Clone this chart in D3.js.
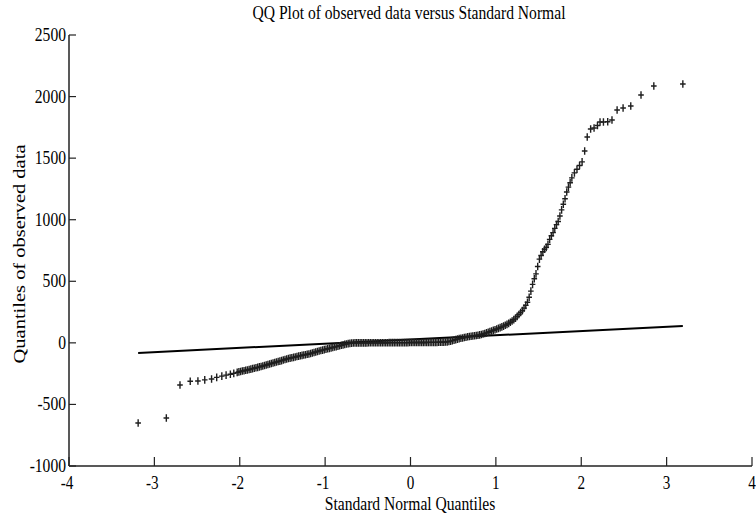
<!DOCTYPE html>
<html>
<head>
<meta charset="utf-8">
<script src="https://cdn.jsdelivr.net/npm/d3@7"></script>
<style>
	body { margin: 0; background: #fff; }
	text { font-family: "Liberation Serif", "Times New Roman", serif; fill: #000; }
</style>
</head>
<body>
<svg id="chart" width="756" height="518"></svg>
<script>
var qx = [
	-3.19, -2.86, -2.70, -2.58, -2.49, -2.41, -2.33, -2.27, -2.21, -2.16, -2.11, -2.07,
	-2.03, -2.01, -1.99, -1.97, -1.95, -1.93, -1.91, -1.89, -1.87, -1.85,
	-1.83, -1.81, -1.79, -1.77, -1.75, -1.73, -1.71, -1.69, -1.67, -1.65,
	-1.63, -1.61, -1.59, -1.57, -1.55, -1.53, -1.51, -1.49, -1.47, -1.45,
	-1.43, -1.41, -1.39, -1.37, -1.35, -1.33, -1.31, -1.29, -1.27, -1.25,
	-1.23, -1.21, -1.19, -1.17, -1.15, -1.13, -1.11, -1.09, -1.07, -1.05,
	-1.03, -1.01, -0.99, -0.97, -0.95, -0.93, -0.91, -0.89, -0.87, -0.85,
	-0.83, -0.81, -0.79, -0.77, -0.75, -0.73, -0.71, -0.69, -0.67,
	-0.65, -0.63, -0.61, -0.59, -0.57, -0.55, -0.53, -0.51, -0.49, -0.47,
	-0.45, -0.43, -0.41, -0.39, -0.37, -0.35, -0.33, -0.31, -0.29, -0.27,
	-0.25, -0.23, -0.21, -0.19, -0.17, -0.15, -0.13, -0.11, -0.09, -0.07,
	-0.05, -0.03, -0.01, 0.01, 0.03, 0.05, 0.07, 0.09, 0.11, 0.13,
	0.15, 0.17, 0.19, 0.21, 0.23, 0.25, 0.27, 0.29, 0.31, 0.33,
	0.35, 0.37, 0.39, 0.41,
	0.43, 0.45, 0.47, 0.49, 0.51, 0.53, 0.55, 0.57, 0.59, 0.61,
	0.63, 0.65, 0.67, 0.69, 0.71, 0.73, 0.75, 0.77, 0.79, 0.81,
	0.83, 0.85, 0.87, 0.89, 0.91, 0.93, 0.95, 0.97, 0.99, 1.01,
	1.03, 1.05, 1.07, 1.09, 1.11, 1.13, 1.15, 1.17, 1.19, 1.21,
	1.23, 1.25, 1.27, 1.29, 1.31, 1.33, 1.35, 1.37, 1.39, 1.41,
	1.43, 1.45, 1.47, 1.49, 1.51, 1.53, 1.55, 1.57, 1.59, 1.61,
	1.63, 1.65, 1.67, 1.69, 1.71, 1.73, 1.75, 1.77, 1.79, 1.81,
	1.83, 1.85, 1.87, 1.89, 1.92, 1.95, 1.98, 2.01, 2.04, 2.07,
	2.11, 2.15, 2.19, 2.22, 2.26, 2.31, 2.36, 2.42, 2.49, 2.58,
	2.70, 2.85, 3.19
];
var qy = [
	-651, -610, -342, -312, -310, -301, -293, -280, -270, -262, -255, -248,
	-240, -236, -232, -229, -226, -223, -220, -216, -213, -209,
	-206, -202, -199, -195, -192, -188, -184, -180, -176, -172,
	-168, -164, -160, -156, -152, -148, -144, -139, -135, -131,
	-127, -124, -121, -118, -115, -111, -108, -105, -102, -99,
	-97, -93, -90, -86, -82, -78, -74, -70, -66, -62,
	-59, -55, -52, -48, -45, -41, -38, -34, -31, -27,
	-24, -20, -16, -12, -9, -6, -4, -2, -1,
	0, 0, 0, 0, 0, 0, 0, 0, 1, 1,
	1, 1, 1, 1, 1, 1, 1, 1, 1, 1,
	2, 2, 2, 2, 2, 2, 2, 2, 2, 2,
	2, 2, 3, 3, 3, 3, 3, 3, 3, 3,
	3, 3, 3, 4, 4, 4, 4, 4, 4, 5,
	5, 6, 6, 7,
	8, 11, 14, 18, 22, 26, 30, 34, 37, 40,
	43, 46, 49, 52, 54, 56, 58, 60, 62, 65,
	68, 72, 76, 81, 86, 91, 96, 101, 107, 112,
	118, 124, 130, 136, 143, 150, 158, 167, 177, 189,
	201, 215, 230, 246, 262, 282, 304, 330, 370, 420,
	475, 520, 560, 620, 680, 710, 740, 760, 775, 800,
	840, 870, 895, 930, 960, 985, 1030, 1080, 1125, 1170,
	1225, 1265, 1300, 1340, 1380, 1410, 1440, 1470, 1558, 1672,
	1737, 1745, 1765, 1794, 1794, 1796, 1810, 1891, 1907, 1923,
	2013, 2086, 2102
];

// Reference line end points
var refX = [-3.19, 3.19];
var refY = [-82, 137];

var xTicks = [-4, -3, -2, -1, 0, 1, 2, 3, 4];
var yTicks = [-1000, -500, 0, 500, 1000, 1500, 2000, 2500];

var titleText = "QQ Plot of observed data versus Standard Normal";
var xLabelText = "Standard Normal Quantiles";
var yLabelText = "Quantiles of observed data";

var svg = d3.select("#chart");

var x = d3.scaleLinear().domain([-4, 4]).range([69, 752]);
var y = d3.scaleLinear().domain([-1000, 2500]).range([466, 35]);

// text is squeezed sideways in the original picture
var squeeze = 0.8;
function putText(str, px, py, size, anchor, rot) {
	var t = svg.append("text")
		.attr("transform", "translate(" + px + "," + py + ") scale(" + squeeze + ",1)" + (rot ? " rotate(" + rot + ")" : ""))
		.attr("text-anchor", anchor)
		.style("font-size", size + "px")
		.text(str);
	return t;
}

// axes lines
svg.append("line")
	.attr("x1", x(-4)).attr("x2", x(4))
	.attr("y1", y(-1000)).attr("y2", y(-1000))
	.attr("stroke", "#222").attr("stroke-width", 1.5);
svg.append("line")
	.attr("x1", x(-4)).attr("x2", x(-4))
	.attr("y1", y(-1000)).attr("y2", y(2500))
	.attr("stroke", "#222").attr("stroke-width", 1.5);

// x ticks point up, y ticks point right
svg.selectAll(".xt").data(xTicks).enter().append("line")
	.attr("x1", function(d) { return x(d); })
	.attr("x2", function(d) { return x(d); })
	.attr("y1", y(-1000)).attr("y2", y(-1000) - 9)
	.attr("stroke", "#222").attr("stroke-width", 1.2);
svg.selectAll(".yt").data(yTicks).enter().append("line")
	.attr("x1", x(-4)).attr("x2", x(-4) + 7)
	.attr("y1", function(d) { return y(d); })
	.attr("y2", function(d) { return y(d); })
	.attr("stroke", "#222").attr("stroke-width", 1.2);

xTicks.forEach(function(d) {
	putText(String(d), x(d) - (d < 0 ? 2 : 0), 489, 19, "middle");
});
yTicks.forEach(function(d) {
	putText(String(d), 66, y(d) + 6, 19.5, "end");
});

// reference line
svg.append("line")
	.attr("x1", x(refX[0])).attr("y1", y(refY[0]))
	.attr("x2", x(refX[1])).attr("y2", y(refY[1]))
	.attr("stroke", "#000").attr("stroke-width", 2);

// plus markers
svg.append("g").selectAll("path").data(qx).enter().append("path")
	.attr("transform", function(d, i) { return "translate(" + x(d) + "," + y(qy[i]) + ")"; })
	.attr("d", "M-2.8,0H2.8M0,-3.8V3.8")
	.attr("fill", "none")
	.attr("stroke", "#1e1e1e")
	.attr("stroke-width", 1.4);

// titles
putText(titleText, 409, 19, 19.5, "middle");
putText(xLabelText, 410, 510, 19.5, "middle");
putText(yLabelText, 25, 254, 20.5, "middle", -90);
</script>
</body>
</html>
